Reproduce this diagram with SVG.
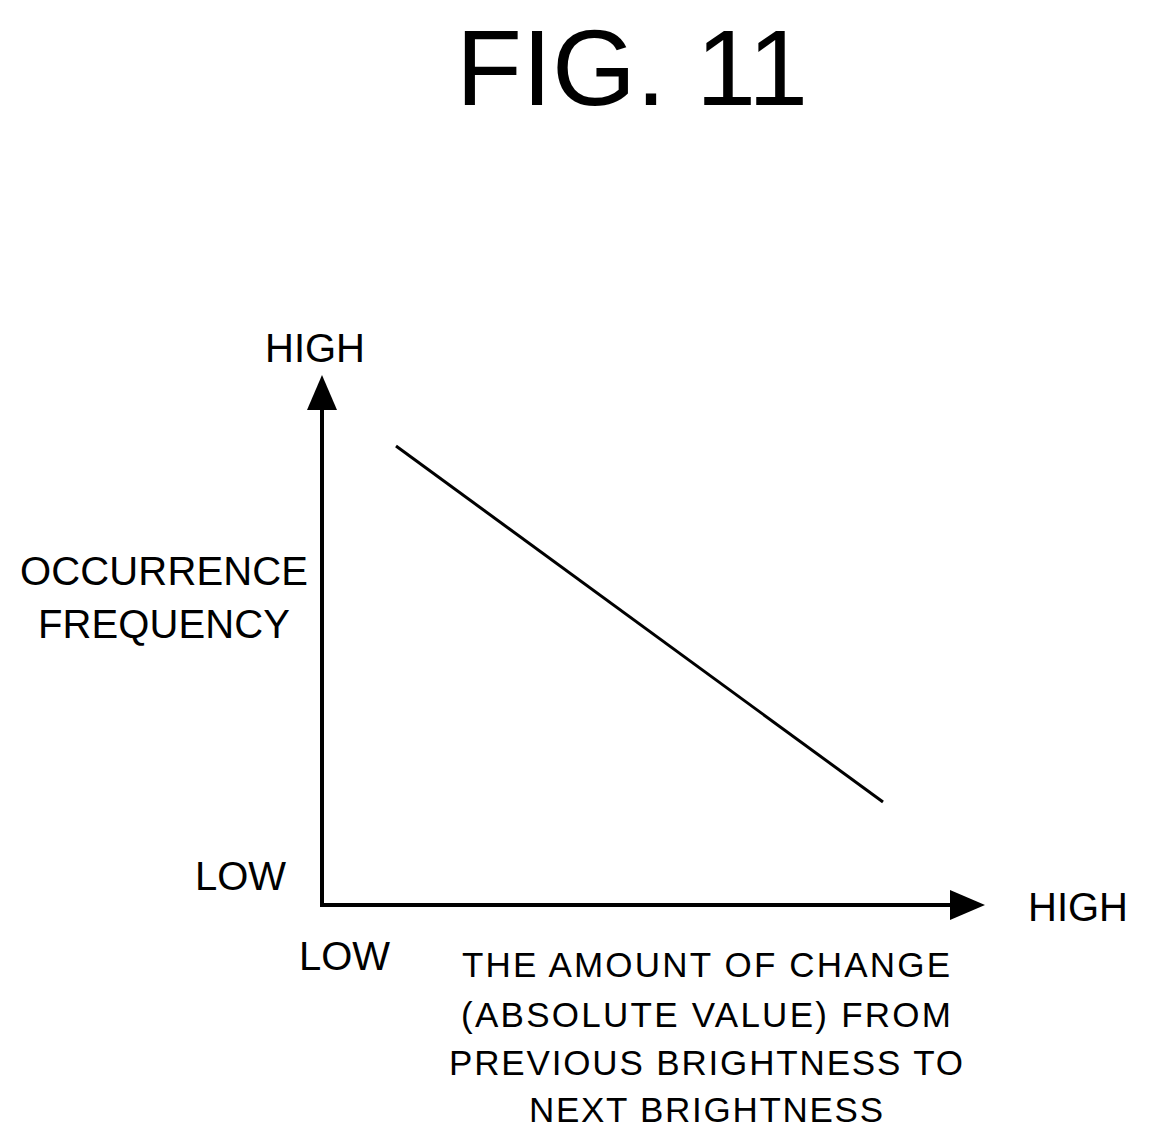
<svg xmlns="http://www.w3.org/2000/svg" width="1155" height="1148" viewBox="0 0 1155 1148">
<style>
text{font-family:"Liberation Sans",Arial,sans-serif;fill:#000}
.l{font-size:40px}
.b{font-size:35px}
.ax{stroke:#000;stroke-width:4;fill:none}
</style>
<defs>
<marker id="ah" markerWidth="10" markerHeight="10" refX="9" refY="5" orient="auto" markerUnits="userSpaceOnUse" viewBox="0 0 10 10">
<path d="M0,0 L10,5 L0,10 Z" fill="#000"/>
</marker>
</defs>
<rect width="1155" height="1148" fill="#fff"/>
<text x="632" y="105" font-size="108" text-anchor="middle" textLength="352" lengthAdjust="spacingAndGlyphs">FIG. 11</text>
<g id="connectors">
<line class="ax" x1="322" y1="907" x2="322" y2="400"/>
<path d="M307,410 L322,375 L337,410 Z"/>
<line class="ax" x1="320" y1="905" x2="955" y2="905"/>
<path d="M950,890 L985,905 L950,920 Z"/>
<line x1="396" y1="446" x2="883" y2="802" stroke="#000" stroke-width="3"/>
</g>
<g id="labels">
<text class="l" x="265" y="362">HIGH</text>
<text class="l" x="20" y="585" textLength="288">OCCURRENCE</text>
<text class="l" x="38" y="638" textLength="252">FREQUENCY</text>
<text class="l" x="195" y="890">LOW</text>
<text class="l" x="299" y="970">LOW</text>
<text class="l" x="1028" y="921">HIGH</text>
<text class="b" x="706" y="977" text-anchor="middle" textLength="488">THE AMOUNT OF CHANGE</text>
<text class="b" x="706" y="1027" text-anchor="middle" textLength="490">(ABSOLUTE VALUE) FROM</text>
<text class="b" x="706" y="1075" text-anchor="middle" textLength="514">PREVIOUS BRIGHTNESS TO</text>
<text class="b" x="706" y="1122" text-anchor="middle" textLength="354">NEXT BRIGHTNESS</text>
</g>
</svg>
